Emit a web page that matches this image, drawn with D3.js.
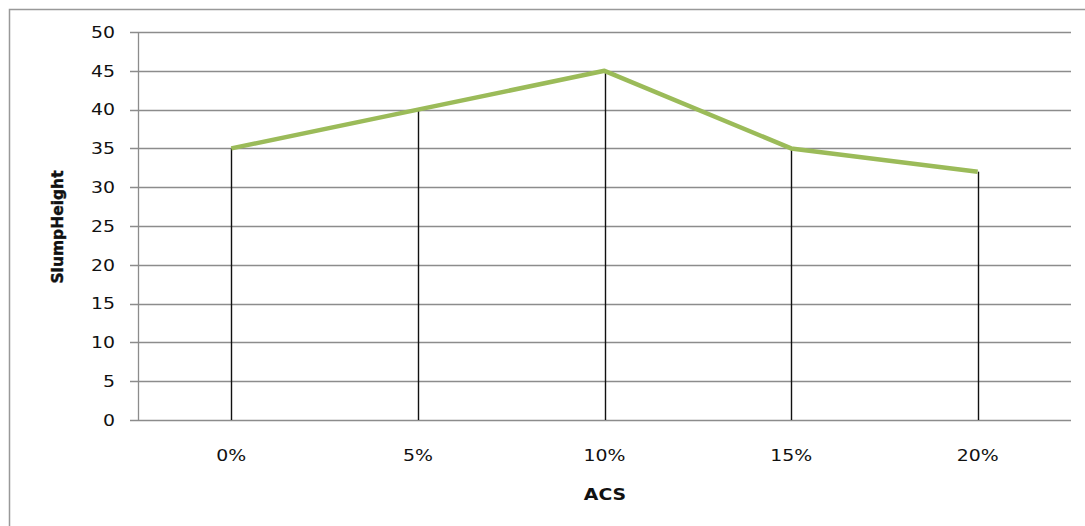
<!DOCTYPE html>
<html>
<head>
<meta charset="utf-8">
<script src="https://cdn.jsdelivr.net/npm/d3@7"></script>
<style>
  html, body { margin: 0; padding: 0; background: #fff; }
  svg { display: block; }
  text { font-family: "DejaVu Sans", Verdana, sans-serif; fill: #111; }
</style>
</head>
<body>
<svg id="chart" width="1085" height="526"></svg>
<script>
// ACS replacement level vs. measured slump height
const categories = ["0%", "5%", "10%", "15%", "20%"];
const slumpHeight = [35, 40, 45, 35, 32];
const yTicks = [0, 5, 10, 15, 20, 25, 30, 35, 40, 45, 50];

const svg = d3.select("#chart");
const W = 1085, H = 526;
const plot = { left: 138, right: 1071, top: 32, bottom: 420 };
const stretch = 1.18; // wide label glyphs

// chart frame
svg.append("path")
  .attr("d", `M9.5,${H} V9.5 H${W}`)
  .attr("fill", "none")
  .attr("stroke", "#999")
  .attr("stroke-width", 1.5);

const x = d3.scaleBand().domain(categories).range([plot.left, plot.right]);
const y = d3.scaleLinear().domain([0, 50]).range([plot.bottom, plot.top]);

// horizontal gridlines
svg.append("g")
  .selectAll("line")
  .data(yTicks)
  .join("line")
  .attr("x1", plot.left - 8)
  .attr("x2", plot.right)
  .attr("y1", d => Math.round(y(d)) + 0.5)
  .attr("y2", d => Math.round(y(d)) + 0.5)
  .attr("stroke", "#8c8c8c")
  .attr("stroke-width", 1.3);

// vertical axis line
svg.append("line")
  .attr("x1", plot.left + 0.5).attr("x2", plot.left + 0.5)
  .attr("y1", y(50)).attr("y2", y(0))
  .attr("stroke", "#8c8c8c")
  .attr("stroke-width", 1.3);

// y tick labels
svg.append("g")
  .selectAll("text")
  .data(yTicks)
  .join("text")
  .attr("transform", d => `translate(115,${y(d)}) scale(${stretch},1)`)
  .attr("dy", "0.36em")
  .attr("text-anchor", "end")
  .attr("font-size", 16)
  .text(d => d);

const cx = d => x(d) + x.bandwidth() / 2;

// drop lines from each point to the baseline
svg.append("g")
  .selectAll("line")
  .data(categories)
  .join("line")
  .attr("x1", d => Math.round(cx(d)) + 0.5)
  .attr("x2", d => Math.round(cx(d)) + 0.5)
  .attr("y1", (d, i) => y(slumpHeight[i]))
  .attr("y2", y(0))
  .attr("stroke", "#111")
  .attr("stroke-width", 1.4);

// series line
const line = d3.line()
  .x((d, i) => cx(categories[i]))
  .y(d => y(d));

svg.append("path")
  .datum(slumpHeight)
  .attr("d", line)
  .attr("fill", "none")
  .attr("stroke", "#9bbb59")
  .attr("stroke-width", 4.5)
  .attr("stroke-linejoin", "round");

// x tick labels
svg.append("g")
  .selectAll("text")
  .data(categories)
  .join("text")
  .attr("transform", d => `translate(${cx(d)},455) scale(${stretch},1)`)
  .attr("dy", "0.36em")
  .attr("text-anchor", "middle")
  .attr("font-size", 16)
  .text(d => d);

// axis titles
svg.append("text")
  .attr("transform", `translate(605,494) scale(${stretch},1)`)
  .attr("dy", "0.36em")
  .attr("text-anchor", "middle")
  .attr("font-size", 16)
  .attr("font-weight", "bold")
  .text("ACS");

svg.append("text")
  .attr("transform", `translate(57,227) rotate(-90)`)
  .attr("dy", "0.36em")
  .attr("text-anchor", "middle")
  .attr("font-size", 15.5)
  .attr("font-weight", "bold")
  .attr("stroke", "#111")
  .attr("stroke-width", 0.4)
  .attr("font-family", "'DejaVu Sans Condensed', 'DejaVu Sans', sans-serif")
  .text("SlumpHeight");
</script>
</body>
</html>
